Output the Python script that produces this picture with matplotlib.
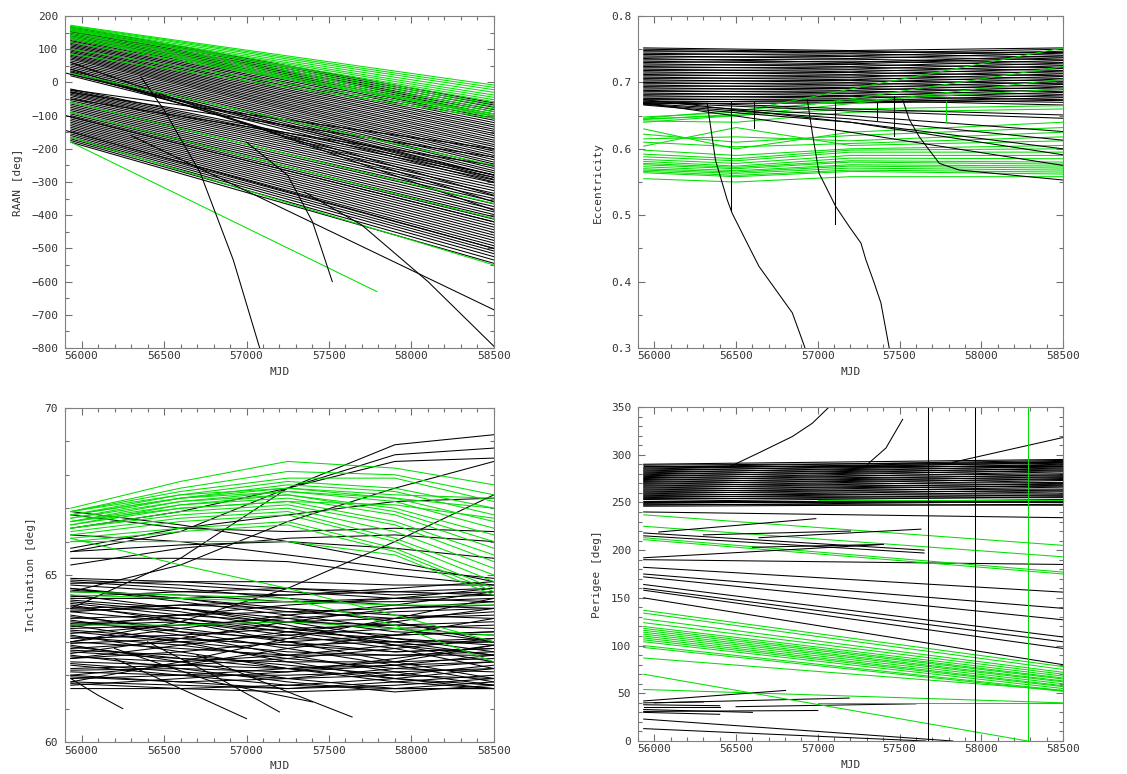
import numpy as np
import matplotlib.pyplot as plt
from matplotlib.ticker import MultipleLocator

plt.rcParams['font.family'] = ['DejaVu Sans Mono']

BLK = '#000000'
GRN = '#00e000'
LW = 0.75

x0, x1 = 55935, 58500

# ---------------- RAAN (start value, end value) ----------------
raan_black_start = [168, 165, 162, 158, 155, 152, 148, 145, 141, 138, 134, 130, 126, 122, 118, 114,
                    110, 106, 102, 98, 94, 90, 86, 82, 78, 74, 70, 65, 60, 55, 50, 45, 40, 35, 30, 25, 20,
                    60, 40, 32,
                    -20, -24, -28, -32, -36, -40, -45, -50, -55, -60, -65, -70, -75, -80, -85, -90, -95,
                    -100, -105, -110, -115, -120, -125, -130, -135, -140, -145, -150, -155, -160, -165,
                    -170, -175, -180, -30, -50, -22]
raan_black_end = [-62, -68, -75, -82, -88, -95, -101, -108, -114, -121, -128, -134, -141, -147, -154, -160,
                  -167, -174, -180, -187, -193, -200, -207, -213, -220, -226, -233, -240, -246, -253, -259,
                  -266, -272, -279, -286, -292, -300,
                  -385, -360, -340,
                  -278, -286, -294, -302, -310, -318, -326, -334, -342, -350, -358, -366, -374, -382, -390,
                  -398, -405, -412, -420, -428, -436, -444, -452, -460, -468, -476, -484, -492, -500, -508,
                  -516, -525, -535, -545, -225, -250, -200]
raan_green_start = [172, 170, 168, 165, 162, 160, 157, 155, 150, 146, 142, 138, 134, 130, 120, 100, 85,
                    28, -60, -90, -165]
raan_green_end = [-8, -15, -22, -30, -38, -45, -52, -58, -65, -72, -80, -88, -95, -100, -95, -102, -108,
                  -250, -365, -410, -550]
raan_edge_x = [55905, 58500]
raan_edge_lines = [[28, -280], [-145, -500], [-100, -420]]
raan_short_x = [55935, 57790]
raan_short_green = [-180, -630]
raan_curves = [
    ([56360, 56500, 56720, 56920, 57080], [17, -83, -273, -535, -800]),
    ([57000, 57250, 57400, 57520], [-180, -280, -420, -600]),
    ([57350, 57700, 58100, 58500], [-330, -430, -600, -795]),
    ([56300, 58500], [-160, -685]),
]

# ---------------- Eccentricity ----------------
ecc_knots3 = [55935, 57200, 58500]
ecc_band_start = [0.752, 0.750, 0.748, 0.746, 0.744, 0.742, 0.740, 0.738, 0.736, 0.734, 0.732, 0.730,
                  0.728, 0.726, 0.724, 0.722, 0.720, 0.718, 0.716, 0.714, 0.712, 0.710, 0.708, 0.706,
                  0.704, 0.702, 0.700, 0.698, 0.696, 0.694, 0.692, 0.690, 0.688, 0.686, 0.684, 0.682,
                  0.680, 0.678, 0.676, 0.674, 0.672, 0.670, 0.668]
ecc_band_mid = [0.748, 0.746, 0.744, 0.747, 0.740, 0.743, 0.736, 0.739, 0.730, 0.735, 0.728, 0.732,
                0.724, 0.727, 0.720, 0.723, 0.716, 0.719, 0.712, 0.715, 0.708, 0.711, 0.704, 0.707,
                0.700, 0.703, 0.696, 0.699, 0.692, 0.695, 0.688, 0.691, 0.684, 0.687, 0.680, 0.683,
                0.676, 0.679, 0.672, 0.675, 0.670, 0.673, 0.669]
ecc_band_end = [0.752, 0.745, 0.750, 0.741, 0.747, 0.738, 0.744, 0.734, 0.740, 0.730, 0.737, 0.726,
                0.733, 0.722, 0.729, 0.718, 0.725, 0.714, 0.721, 0.710, 0.717, 0.706, 0.713, 0.702,
                0.709, 0.698, 0.705, 0.694, 0.701, 0.690, 0.697, 0.686, 0.693, 0.682, 0.689, 0.678,
                0.685, 0.674, 0.681, 0.670, 0.677, 0.666, 0.673]
ecc_desc = [[0.674, 0.640, 0.600], [0.669, 0.625, 0.575], [0.672, 0.660, 0.651], [0.670, 0.657, 0.646],
            [0.668, 0.650, 0.626], [0.667, 0.645, 0.613], [0.666, 0.640, 0.591]]
ecc_knots4 = [55935, 56500, 57200, 58500]
ecc_green = [[0.645, 0.650, 0.660, 0.665], [0.642, 0.640, 0.655, 0.660], [0.630, 0.600, 0.625, 0.640],
             [0.622, 0.610, 0.620, 0.632], [0.615, 0.618, 0.612, 0.625], [0.610, 0.603, 0.608, 0.618],
             [0.604, 0.632, 0.605, 0.612], [0.598, 0.590, 0.600, 0.605], [0.592, 0.585, 0.598, 0.600],
             [0.588, 0.582, 0.595, 0.595], [0.584, 0.578, 0.590, 0.590], [0.581, 0.574, 0.586, 0.585],
             [0.578, 0.572, 0.582, 0.580], [0.576, 0.570, 0.580, 0.577], [0.573, 0.567, 0.576, 0.574],
             [0.570, 0.565, 0.574, 0.571], [0.568, 0.563, 0.571, 0.568], [0.566, 0.560, 0.568, 0.565],
             [0.564, 0.558, 0.566, 0.562], [0.555, 0.550, 0.558, 0.558],
             [0.648, 0.655, 0.690, 0.752], [0.644, 0.652, 0.675, 0.724], [0.640, 0.650, 0.668, 0.705],
             [0.646, 0.658, 0.672, 0.690]]
ecc_curves = [
    ([56323, 56374, 56446, 56476, 56578, 56640, 56742, 56844, 56922],
     [0.669, 0.583, 0.523, 0.503, 0.453, 0.423, 0.388, 0.353, 0.300]),
    ([56936, 56967, 57008, 57049, 57110, 57192, 57264, 57294, 57345, 57386, 57437],
     [0.674, 0.623, 0.563, 0.543, 0.513, 0.483, 0.458, 0.433, 0.398, 0.368, 0.300]),
    ([57519, 57560, 57621, 57682, 57744, 57866, 58500],
     [0.674, 0.644, 0.618, 0.598, 0.578, 0.568, 0.553]),
]
ecc_vert_x = [56466, 57106, 56609, 57365, 57468]
ecc_vert_top = [0.670, 0.670, 0.670, 0.670, 0.680]
ecc_vert_bot = [0.507, 0.487, 0.631, 0.643, 0.620]
ecc_green_vert = [57785, 0.672, 0.640]

# ---------------- Inclination ----------------
inc_knots = [55935, 56600, 57250, 57900, 58500]
inc_green = [[67.0, 67.8, 68.4, 68.2, 67.7], [66.9, 67.6, 68.1, 68.0, 67.4], [66.9, 67.5, 67.9, 67.9, 67.2],
             [66.8, 67.4, 67.8, 67.6, 67.0], [66.8, 67.3, 67.7, 67.5, 66.8], [66.7, 67.3, 67.6, 67.3, 66.6],
             [66.7, 67.2, 67.5, 67.2, 66.4], [66.6, 67.2, 67.4, 67.0, 66.2], [66.6, 67.1, 67.4, 66.9, 66.0],
             [66.5, 67.1, 67.3, 66.8, 65.8], [66.5, 67.0, 67.2, 66.6, 65.6], [66.4, 66.9, 67.1, 66.5, 65.4],
             [66.4, 66.8, 67.0, 66.3, 65.2], [66.3, 66.7, 66.9, 66.1, 65.0], [66.2, 66.6, 66.8, 66.0, 64.8],
             [66.1, 66.4, 66.6, 65.8, 64.6], [66.0, 66.3, 66.5, 65.7, 64.5], [66.9, 67.4, 67.6, 67.4, 67.3],
             [66.8, 67.3, 67.5, 67.3, 67.0], [66.6, 67.0, 67.2, 67.1, 66.7], [66.0, 66.0, 66.0, 65.6, 64.4],
             [66.1, 65.3, 64.6, 63.8, 63.0], [64.5, 64.4, 64.3, 63.5, 62.4], [63.5, 63.5, 63.6, 63.4, 63.2],
             [64.4, 64.3, 64.2, 64.1, 64.1]]
inc_black = [[64.9, 64.8, 64.8, 64.7, 64.7], [64.8, 64.6, 64.3, 64.1, 64.0], [64.7, 64.5, 64.4, 64.5, 64.6],
             [64.6, 64.2, 63.8, 63.4, 63.0], [64.5, 64.4, 64.2, 64.2, 64.3], [64.4, 64.0, 63.5, 62.9, 62.4],
             [64.3, 64.3, 64.4, 64.6, 64.8], [64.2, 63.9, 63.4, 63.0, 62.6], [64.1, 63.6, 63.0, 62.4, 61.9],
             [64.0, 64.1, 64.2, 64.3, 64.4], [63.9, 63.6, 63.3, 63.1, 62.9], [63.8, 63.3, 62.8, 62.3, 61.8],
             [63.7, 63.8, 63.9, 64.0, 64.1], [63.6, 63.3, 63.1, 63.0, 63.0], [63.5, 63.0, 62.4, 61.9, 61.6],
             [63.4, 63.5, 63.6, 63.7, 63.8], [63.3, 63.0, 62.7, 62.6, 62.6], [63.2, 62.7, 62.2, 61.8, 61.6],
             [63.1, 63.2, 63.4, 63.5, 63.6], [63.0, 62.8, 62.6, 62.6, 62.7], [62.9, 62.4, 61.9, 61.6, 61.6],
             [62.8, 63.0, 63.2, 63.4, 63.5], [62.7, 62.5, 62.4, 62.4, 62.5], [62.6, 62.2, 61.8, 61.5, 61.7],
             [62.5, 62.7, 63.0, 63.2, 63.3], [62.4, 62.3, 62.2, 62.3, 62.4], [62.3, 62.0, 61.7, 61.6, 61.8],
             [62.2, 62.3, 62.5, 62.8, 63.1], [62.1, 62.0, 62.0, 62.1, 62.2], [62.0, 61.8, 61.6, 61.8, 62.0],
             [61.9, 62.0, 62.2, 62.4, 62.9], [61.8, 61.7, 61.6, 61.7, 61.9], [61.7, 61.9, 62.1, 62.5, 62.9],
             [61.6, 61.6, 61.5, 61.6, 61.6], [63.5, 63.6, 63.2, 62.8, 62.2], [63.9, 64.1, 64.0, 63.6, 63.0],
             [64.6, 64.3, 63.9, 63.7, 63.9], [62.0, 62.3, 62.8, 63.2, 63.7], [62.5, 62.9, 63.3, 63.6, 64.0],
             [61.8, 62.4, 63.1, 63.7, 64.3], [63.0, 63.4, 63.8, 64.1, 64.5],
             [64.85, 64.7, 64.5, 64.3, 64.2], [64.75, 64.8, 64.6, 64.4, 64.5], [64.55, 64.3, 64.0, 63.8, 63.7],
             [64.35, 64.5, 64.6, 64.5, 64.4], [64.15, 63.8, 63.6, 63.5, 63.4], [63.95, 64.0, 63.7, 63.3, 63.2],
             [63.75, 63.4, 63.0, 62.7, 62.8], [63.55, 63.7, 63.4, 63.2, 63.3], [63.35, 63.1, 62.9, 63.0, 63.1],
             [63.15, 62.9, 62.5, 62.2, 62.1], [62.95, 63.1, 62.9, 62.7, 62.8], [62.75, 62.6, 62.3, 62.0, 61.9],
             [62.55, 62.4, 62.6, 62.9, 63.0], [62.35, 62.1, 61.9, 62.0, 62.3], [62.15, 62.2, 62.1, 62.3, 62.6],
             [61.95, 61.8, 61.9, 62.2, 62.4], [61.75, 61.6, 61.7, 61.9, 62.2], [63.65, 63.2, 62.6, 62.1, 61.7],
             [64.05, 63.7, 63.3, 62.9, 62.6], [63.45, 63.8, 64.1, 64.3, 64.6], [62.65, 63.1, 63.6, 64.0, 64.2],
             [64.25, 64.0, 63.6, 63.1, 62.7], [62.85, 62.5, 62.2, 61.9, 61.7], [63.25, 63.5, 63.7, 63.9, 64.0],
             [65.5, 65.5, 65.4, 65.0, 64.7], [65.7, 65.9, 66.0, 65.8, 65.5], [66.2, 66.0, 65.6, 65.2, 64.9],
             [66.9, 66.5, 66.0, 65.4, 64.8], [66.8, 66.4, 66.3, 66.4, 66.3], [65.3, 65.8, 66.1, 66.2, 66.0],
             [64.0, 65.5, 67.6, 68.9, 69.2], [65.7, 66.3, 67.6, 68.6, 68.8], [64.5, 65.3, 66.6, 67.6, 68.4],
             [63.0, 63.6, 64.6, 66.0, 67.4], [66.4, 66.9, 67.6, 68.4, 68.5], [65.8, 66.4, 66.8, 67.2, 67.3]]
inc_short = [
    ([55935, 56100, 56250], [61.9, 61.4, 61.0]),
    ([56200, 56600, 57000], [62.5, 61.6, 60.7]),
    ([56400, 56800, 57200], [63.0, 62.0, 60.9]),
    ([56700, 57200, 57640], [62.6, 61.6, 60.75]),
    ([56200, 56800, 57400], [62.8, 61.8, 61.2]),
]

# ---------------- Perigee (start value, end value) ----------------
per_band_start = [246, 247, 248, 249, 250, 251, 252, 253, 254, 255, 256, 257, 258, 259, 260, 261, 262, 263,
                  264, 265, 266, 267, 268, 269, 270, 271, 272, 273, 274, 275, 276, 277, 278, 279, 280, 281,
                  282, 283, 284, 285, 286, 287, 288, 289, 290]
per_band_end = [248, 251, 247, 253, 250, 256, 252, 258, 255, 261, 257, 263, 259, 266, 262, 268, 264, 270,
                267, 273, 269, 275, 271, 277, 274, 279, 276, 282, 278, 284, 280, 286, 283, 288, 285, 290,
                287, 292, 289, 293, 291, 294, 288, 292, 295]
per_black_start = [240, 190, 182, 175, 172, 164, 160, 158, 150]
per_black_end = [234, 185, 156, 139, 127, 109, 104, 97, 80]
per_green_start = [237, 225, 213, 211, 137, 134, 128, 124, 120, 118, 116, 114, 112, 110, 108, 106, 104, 100,
                   98, 87, 54]
per_green_end = [205, 193, 177, 175, 78, 75, 72, 70, 68, 66, 65, 63, 62, 60, 58, 57, 55, 53, 52, 53, 40]
per_segments = [
    ([55935, 57650], [218, 200], BLK), ([55935, 57650], [215, 197], BLK),
    ([56027, 56988], [219, 233], BLK), ([56640, 57631], [213, 222], BLK),
    ([56300, 57200], [216, 220], BLK), ([56600, 57400], [203, 206], BLK),
    ([55935, 57400], [192, 206], BLK),
    ([55935, 56300], [40, 41], BLK), ([55935, 56400], [38, 37], BLK), ([55935, 56400], [36, 36], BLK),
    ([55935, 56803], [42, 53], BLK), ([56000, 57192], [40, 45], BLK), ([55935, 56600], [33, 30], BLK),
    ([55935, 57000], [31, 32], BLK), ([55935, 56400], [30, 28], BLK), ([55935, 57826], [23, 0], BLK),
    ([55935, 57660], [13, 0], BLK), ([56500, 57600], [36, 39], BLK),
    ([55935, 58285], [70, 0], GRN), ([57000, 58500], [40, 40], GRN), ([57000, 58500], [253, 253], GRN),
    ([56456, 56640, 56844, 56967, 57069], [287, 302, 319, 333, 350], BLK),
    ([57304, 57417, 57519], [290, 307, 337], BLK),
    ([57826, 58500], [292, 318], BLK),
]
per_vert_x = [57676, 57962, 58285]
per_vert_col = [BLK, BLK, GRN]

fig = plt.figure(figsize=(11.27, 7.74), dpi=100)
ax1 = fig.add_axes([0.0577, 0.5504, 0.3806, 0.4289])
ax2 = fig.add_axes([0.5661, 0.5504, 0.3771, 0.4289])
ax3 = fig.add_axes([0.0577, 0.0413, 0.3806, 0.4316])
ax4 = fig.add_axes([0.5661, 0.0426, 0.3771, 0.4316])

# RAAN
for s, e in zip(raan_black_start, raan_black_end):
    ax1.plot([x0, x1], [s, e], color=BLK, lw=LW)
for s, e in raan_edge_lines:
    ax1.plot(raan_edge_x, [s, e], color=BLK, lw=LW)
for s, e in zip(raan_green_start, raan_green_end):
    ax1.plot([x0, x1], [s, e], color=GRN, lw=LW)
ax1.plot(raan_short_x, raan_short_green, color=GRN, lw=LW)
for xs, ys in raan_curves:
    ax1.plot(xs, ys, color=BLK, lw=LW)

# Eccentricity
for a, b, c in zip(ecc_band_start, ecc_band_mid, ecc_band_end):
    ax2.plot(ecc_knots3, [a, b, c], color=BLK, lw=LW)
for ys in ecc_green:
    ax2.plot(ecc_knots4, ys, color=GRN, lw=LW)
for ys in ecc_desc:
    ax2.plot(ecc_knots3, ys, color=BLK, lw=LW)
for xs, ys in ecc_curves:
    ax2.plot(xs, ys, color=BLK, lw=LW)
for xv, t, b in zip(ecc_vert_x, ecc_vert_top, ecc_vert_bot):
    ax2.plot([xv, xv], [t, b], color=BLK, lw=LW)
ax2.plot([ecc_green_vert[0]] * 2, ecc_green_vert[1:], color=GRN, lw=LW)

# Inclination
for ys in inc_black:
    ax3.plot(inc_knots, ys, color=BLK, lw=LW)
for ys in inc_green:
    ax3.plot(inc_knots, ys, color=GRN, lw=LW)
for xs, ys in inc_short:
    ax3.plot(xs, ys, color=BLK, lw=LW)

# Perigee
for s, e in zip(per_band_start, per_band_end):
    ax4.plot([x0, x1], [s, e], color=BLK, lw=LW)
for s, e in zip(per_black_start, per_black_end):
    ax4.plot([x0, x1], [s, e], color=BLK, lw=LW)
for s, e in zip(per_green_start, per_green_end):
    ax4.plot([x0, x1], [s, e], color=GRN, lw=LW)
for xs, ys, c in per_segments:
    ax4.plot(xs, ys, color=c, lw=LW)
for xv, c in zip(per_vert_x, per_vert_col):
    ax4.plot([xv, xv], [0, 350], color=c, lw=LW)


def style(ax, ylim, ymaj, ymin, ylabel):
    ax.set_xlim(55900, 58500)
    ax.set_ylim(*ylim)
    ax.xaxis.set_major_locator(MultipleLocator(500))
    ax.xaxis.set_minor_locator(MultipleLocator(100))
    ax.yaxis.set_major_locator(MultipleLocator(ymaj))
    ax.yaxis.set_minor_locator(MultipleLocator(ymin))
    ax.tick_params(which='both', direction='in', top=True, right=True,
                   color='#707070', labelcolor='#333333', labelsize=8, width=0.8)
    ax.tick_params(which='major', length=5)
    ax.tick_params(which='minor', length=3)
    ax.tick_params(axis='x', which='major', pad=2.5)
    ax.tick_params(axis='y', which='major', pad=5)
    for sp in ax.spines.values():
        sp.set_color('#808080')
        sp.set_linewidth(0.8)
    ax.set_xlabel('MJD', fontsize=8, color='#333333', labelpad=4)
    ax.set_ylabel(ylabel, fontsize=8, color='#333333', labelpad=6)


style(ax1, (-800, 200), 100, 50, 'RAAN [deg]')
style(ax2, (0.3, 0.8), 0.1, 0.05, 'Eccentricity')
style(ax3, (60, 70), 5, 1, 'Inclination [deg]')
style(ax4, (0, 350), 50, 10, 'Perigee [deg]')

fig.savefig('out.png', dpi=100)
